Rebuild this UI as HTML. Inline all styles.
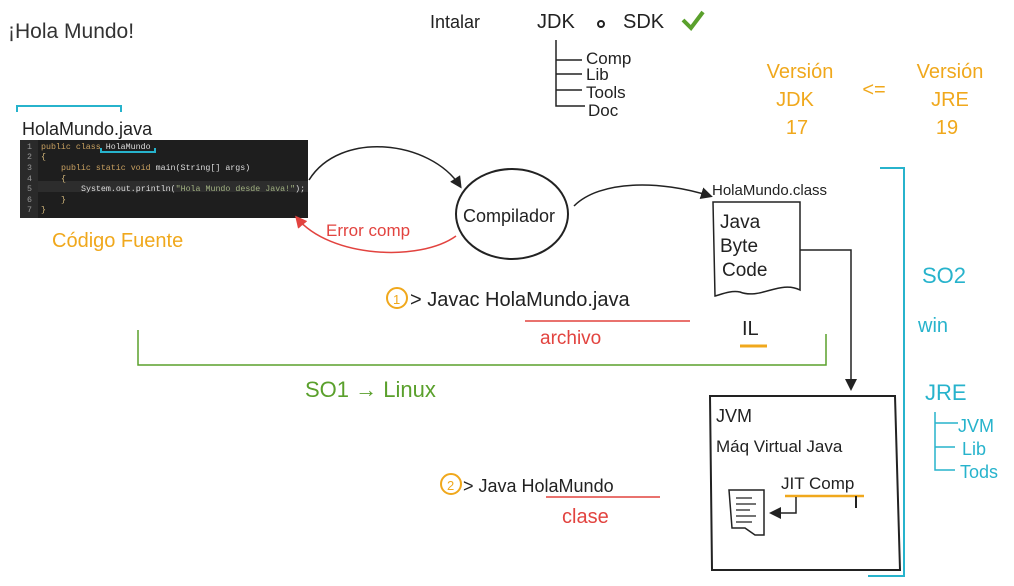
<!DOCTYPE html>
<html><head><meta charset="utf-8"><style>
body{margin:0;background:#fff;width:1014px;height:586px;overflow:hidden}
svg{display:block}
text{font-family:"Liberation Sans",sans-serif}
.k{fill:#222}.o{fill:#f0a81c}.c{fill:#27b3cc}.g{fill:#5aa02c}.r{fill:#e2433f}
.m text{font-family:"Liberation Mono",monospace;font-size:8.3px}
</style></head><body>
<svg width="1014" height="586" viewBox="0 0 1014 586" xmlns="http://www.w3.org/2000/svg">
<defs><marker id="a" markerWidth="8" markerHeight="8" refX="6" refY="4" orient="auto"><path d="M0,0 L8,4 L0,8z" fill="#222"/></marker>
<marker id="ar" markerWidth="8" markerHeight="8" refX="6" refY="4" orient="auto"><path d="M0,0 L8,4 L0,8z" fill="#e2433f"/></marker></defs>
<text x="8" y="38" font-size="21" fill="#333">¡Hola Mundo!</text>
<text x="430" y="28" font-size="18" class="k">Intalar</text>
<text x="537" y="28" font-size="20" class="k">JDK</text>
<circle cx="601" cy="24" r="3" fill="none" stroke="#222" stroke-width="2"/>
<text x="623" y="28" font-size="20" class="k">SDK</text>
<path d="M683,20 L691,28 L703,12" stroke="#5aa02c" stroke-width="4" fill="none"/>
<path d="M556,40 V106 H585 M556,60 H582 M556,74 H582 M556,90 H582" stroke="#222" stroke-width="1.5" fill="none"/>
<text x="586" y="64" font-size="17" class="k">Comp</text>
<text x="586" y="80" font-size="17" class="k">Lib</text>
<text x="586" y="98" font-size="17" class="k">Tools</text>
<text x="588" y="116" font-size="17" class="k">Doc</text>
<g font-size="20" class="o" text-anchor="middle">
<text x="800" y="78">Versión</text><text x="795" y="106">JDK</text><text x="797" y="134">17</text>
<text x="874" y="96">&lt;=</text>
<text x="950" y="78">Versión</text><text x="950" y="106">JRE</text><text x="947" y="134">19</text></g>
<path d="M17,112 V106 H121 V112" stroke="#27b3cc" stroke-width="2" fill="none"/>
<text x="22" y="135" font-size="18" class="k">HolaMundo.java</text>
<rect x="20" y="140" width="288" height="78" fill="#1e1e1e"/>
<rect x="20" y="140" width="18" height="78" fill="#2a2a2a"/>
<rect x="38" y="181" width="270" height="11" fill="#2d2d2d"/>
<g class="m" fill="#999"><text x="27" y="149">1</text><text x="27" y="159">2</text><text x="27" y="170">3</text><text x="27" y="181">4</text><text x="27" y="191">5</text><text x="27" y="202">6</text><text x="27" y="212">7</text></g>
<g class="m"><text x="41" y="149" fill="#c8a060">public class <tspan fill="#ddd">HolaMundo</tspan></text>
<text x="41" y="159" fill="#d7ba7d">{</text>
<text x="61" y="170" fill="#c8a060">public static void <tspan fill="#ddd">main(String[] args)</tspan></text>
<text x="61" y="181" fill="#d7ba7d">{</text>
<text x="81" y="191" fill="#ddd">System.out.println(<tspan fill="#a0b080">"Hola Mundo desde Java!"</tspan>);</text>
<text x="61" y="202" fill="#d7ba7d">}</text><text x="41" y="212" fill="#d7ba7d">}</text></g>
<path d="M101,148 V152 H155 V148" stroke="#27b3cc" stroke-width="2" fill="none"/>
<text x="52" y="247" font-size="20" class="o">Código Fuente</text>
<ellipse cx="512" cy="214" rx="56" ry="45" fill="none" stroke="#222" stroke-width="2"/>
<text x="463" y="222" font-size="18" class="k">Compilador</text>
<path d="M309,180 C340,130 430,140 460,186" stroke="#222" stroke-width="1.5" fill="none" marker-end="url(#a)"/>
<path d="M456,236 C420,262 330,258 297,218" stroke="#e2433f" stroke-width="1.5" fill="none" marker-end="url(#ar)"/>
<text x="326" y="236" font-size="17" class="r">Error comp</text>
<path d="M574,206 C600,180 660,180 710,196" stroke="#222" stroke-width="1.5" fill="none" marker-end="url(#a)"/>
<text x="712" y="195" font-size="15" class="k">HolaMundo.class</text>
<path d="M713,202 H800 V290 C780,280 760,300 740,292 C730,290 720,295 715,296 Z" fill="none" stroke="#222" stroke-width="1.5"/>
<text x="720" y="228" font-size="19" class="k">Java</text>
<text x="720" y="252" font-size="19" class="k">Byte</text>
<text x="722" y="276" font-size="19" class="k">Code</text>
<path d="M800,250 H851 V388" stroke="#222" stroke-width="1.5" fill="none" marker-end="url(#a)"/>
<circle cx="397" cy="298" r="10" fill="none" stroke="#f0a81c" stroke-width="2"/>
<text x="393" y="304" font-size="13" class="o">1</text>
<text x="410" y="306" font-size="20" class="k">&gt; Javac  HolaMundo.java</text>
<path d="M525,321 H690" stroke="#e2433f" stroke-width="1.5"/>
<text x="540" y="344" font-size="19" class="r">archivo</text>
<text x="742" y="335" font-size="20" class="k">IL</text>
<path d="M740,346 H767" stroke="#f0a81c" stroke-width="3"/>
<path d="M138,330 V365 H826 V334" stroke="#5aa02c" stroke-width="1.5" fill="none"/>
<text x="305" y="397" font-size="22" class="g">SO1 → Linux</text>
<path d="M880,168 H904 V576 H868" stroke="#27b3cc" stroke-width="2" fill="none"/>
<text x="922" y="283" font-size="22" class="c">SO2</text>
<text x="918" y="332" font-size="20" class="c">win</text>
<text x="925" y="400" font-size="22" class="c">JRE</text>
<path d="M935,412 V470 H955 M935,423 H958 M935,447 H955" stroke="#27b3cc" stroke-width="1.5" fill="none"/>
<text x="958" y="432" font-size="18" class="c">JVM</text>
<text x="962" y="455" font-size="18" class="c">Lib</text>
<text x="960" y="478" font-size="18" class="c">Tods</text>
<path d="M710,396 H895 L900,570 H712 Z" fill="none" stroke="#222" stroke-width="2"/>
<text x="716" y="422" font-size="18" class="k">JVM</text>
<text x="716" y="452" font-size="17" class="k">Máq Virtual  Java</text>
<text x="781" y="489" font-size="17" class="k">JIT Comp</text>
<path d="M785,496 H864" stroke="#f0a81c" stroke-width="2.5"/>
<path d="M796,497 V513 H772" stroke="#222" stroke-width="1.5" fill="none" marker-end="url(#a)"/>
<path d="M856,496 V508" stroke="#222" stroke-width="2"/>
<path d="M729,490 H764 V535 L755,535 L745,528 H732 Z" fill="none" stroke="#222" stroke-width="1.5"/>
<path d="M736,498 H752 M736,504 H756 M736,510 H750 M736,516 H756 M736,522 H752" stroke="#222" stroke-width="1.2"/>
<circle cx="451" cy="484" r="10" fill="none" stroke="#f0a81c" stroke-width="2"/>
<text x="447" y="490" font-size="13" class="o">2</text>
<text x="463" y="492" font-size="18" class="k">&gt; Java  HolaMundo</text>
<path d="M546,497 H660" stroke="#e2433f" stroke-width="1.5"/>
<text x="562" y="523" font-size="20" class="r">clase</text>
</svg>
</body></html>
